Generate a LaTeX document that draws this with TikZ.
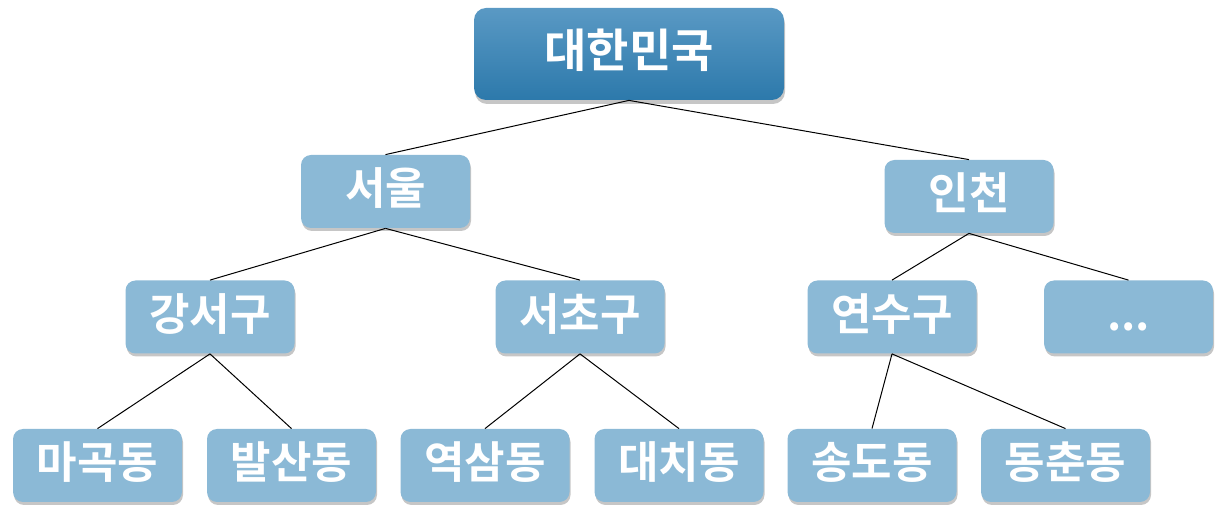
\documentclass[tikz,border=0pt]{standalone}
\usepackage{fontspec}
\newfontfamily\krfont{Noto Sans CJK KR}[BoldFont={Noto Sans CJK KR Bold}]
\usetikzlibrary{shadows}
\definecolor{topblue}{RGB}{90,153,196}
\definecolor{botblue}{RGB}{44,121,171}
\definecolor{boxblue}{RGB}{139,185,214}
\tikzset{
  nation/.style={rounded corners=6pt, top color=topblue, bottom color=botblue,
    minimum width=155pt, minimum height=46pt, inner sep=0pt,
    text=white, font=\krfont\bfseries\fontsize{23}{23}\selectfont,
    text height=1.35em, text depth=0em,
    drop shadow={opacity=0.45, shadow xshift=0.5pt, shadow yshift=-2pt}},
  region/.style={rounded corners=5pt, fill=boxblue,
    minimum width=84.5pt, minimum height=36.5pt, inner sep=0pt,
    text=white, font=\krfont\bfseries\fontsize{22}{22}\selectfont,
    text height=1.35em, text depth=0em,
    drop shadow={opacity=0.45, shadow xshift=0.5pt, shadow yshift=-1.5pt}},
  branch/.style={black, line width=0.5pt}
}

\begin{document}
\begin{tikzpicture}[x=0.5pt,y=-0.5pt]
\useasboundingbox (0,0) rectangle (1223,529);
% niveau pays
\node[nation] (korea) at (629,54) {대한민국};
% villes
\node[region] (seoul) at (385.5,191.5) {서울};
\node[region] (incheon) at (969,196.5) {인천};
% arrondissements
\node[region] (gangseo) at (210,317) {강서구};
\node[region] (seocho) at (580,317) {서초구};
\node[region] (yeonsu) at (892,317) {연수구};
\node[region] (etc) at (1128.5,317) {...};
% quartiers
\node[region] (magok) at (97.5,465.5) {마곡동};
\node[region] (balsan) at (291.5,465.5) {발산동};
\node[region] (yeoksam) at (485,465.5) {역삼동};
\node[region] (daechi) at (679,465.5) {대치동};
\node[region] (songdo) at (872,465.5) {송도동};
\node[region] (dongchun) at (1065.5,465.5) {동춘동};

\draw[branch] (korea.south) -- (seoul.north);
\draw[branch] (korea.south) -- (incheon.north);
\draw[branch] (seoul.south) -- (gangseo.north);
\draw[branch] (seoul.south) -- (seocho.north);
\draw[branch] (incheon.south) -- (yeonsu.north);
\draw[branch] (incheon.south) -- (etc.north);
\draw[branch] (gangseo.south) -- (magok.north);
\draw[branch] (gangseo.south) -- (balsan.north);
\draw[branch] (seocho.south) -- (yeoksam.north);
\draw[branch] (seocho.south) -- (daechi.north);
\draw[branch] (yeonsu.south) -- (songdo.north);
\draw[branch] (yeonsu.south) -- (dongchun.north);
\end{tikzpicture}
\end{document}
